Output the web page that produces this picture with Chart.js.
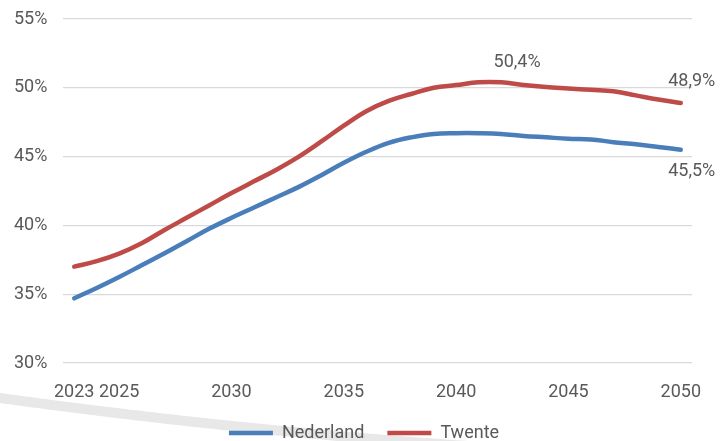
<!DOCTYPE html>
<html><head><meta charset="utf-8">
<script src="https://cdn.jsdelivr.net/npm/chart.js@4.4.1/dist/chart.umd.min.js"></script>
<style>html,body{margin:0;padding:0;background:#fff;overflow:hidden;width:722px;height:441px}#wrap{width:722px;height:452px;position:relative}</style>
</head><body><div id="wrap"><canvas id="c"></canvas></div>
<script>
const years = ['2023','2024','2025','2026','2027','2028','2029','2030','2031','2032','2033','2034','2035','2036','2037','2038','2039','2040','2041','2042','2043','2044','2045','2046','2047','2048','2049','2050'];
const tickYears = ['2023','2025','2030','2035','2040','2045','2050'];
const nederland = [34.7,35.45,36.25,37.1,37.95,38.85,39.75,40.55,41.3,42.05,42.8,43.65,44.55,45.35,46.0,46.4,46.65,46.7,46.7,46.65,46.5,46.4,46.3,46.25,46.05,45.9,45.7,45.5];
const twente = [37.0,37.4,37.95,38.7,39.65,40.55,41.45,42.35,43.2,44.05,45.0,46.1,47.25,48.3,49.05,49.55,50.0,50.2,50.4,50.4,50.2,50.05,49.95,49.85,49.75,49.45,49.15,48.9];
const yMin = 30, yMax = 55, yStep = 5;
const nederlandLabelYears = ['2050'];
const twenteLabelYears = ['2042','2050'];

const fontFam = 'Roboto, "Noto Sans", sans-serif';
const textColor = '#595959';

const arcPlugin = {
  id: 'arc',
  beforeDraw(chart) {
    const ctx = chart.ctx;
    ctx.save();
    ctx.strokeStyle = '#e8e8e8';
    ctx.lineWidth = 10;
    ctx.lineCap = 'butt';
    ctx.beginPath();
    for (let x = -10; x <= 480; x += 5) {
      const y = 398 + 0.1376 * x - 0.0000747 * x * x;
      if (x === -10) ctx.moveTo(x, y); else ctx.lineTo(x, y);
    }
    ctx.stroke();
    ctx.restore();
  }
};

const labelPlugin = {
  id: 'valueLabels',
  afterDatasetsDraw(chart, args, opts) {
    const ctx = chart.ctx;
    ctx.save();
    ctx.font = '18px ' + fontFam;
    ctx.fillStyle = textColor;
    ctx.textAlign = 'center';
    ctx.textBaseline = 'middle';
    opts.items.forEach(it => {
      const ds = chart.data.datasets[it.dataset];
      const meta = chart.getDatasetMeta(it.dataset);
      it.years.forEach((yr, k) => {
        const idx = chart.data.labels.indexOf(yr);
        const el = meta.data[idx];
        const v = ds.data[idx];
        const txt = v.toFixed(1).replace('.', ',') + '%';
        ctx.fillText(txt, el.x + it.dx[k], el.y + it.dy[k]);
      });
    });
    ctx.restore();
  }
};

new Chart(document.getElementById('c'), {
  type: 'line',
  data: {
    labels: years,
    datasets: [
      { label: 'Nederland', data: nederland, borderColor: '#4A7EBB', backgroundColor: '#4A7EBB', borderWidth: 4.5, pointRadius: 0, tension: 0.4, borderCapStyle: 'round', pointStyle: 'line' },
      { label: 'Twente', data: twente, borderColor: '#BE4B48', backgroundColor: '#BE4B48', borderWidth: 4.5, pointRadius: 0, tension: 0.4, borderCapStyle: 'round', pointStyle: 'line' }
    ]
  },
  options: {
    responsive: true,
    maintainAspectRatio: false,
    animation: false,
    layout: { padding: { top: 19, right: 30, left: 36, bottom: 0 } },
    scales: {
      x: {
        type: 'category',
        offset: true,
        grid: { display: false, drawTicks: false },
        border: { display: false },
        ticks: {
          autoSkip: false, maxRotation: 0, padding: 19, color: textColor,
          font: { family: fontFam, size: 18 },
          callback(v, i) { const l = this.getLabelForValue(v); return tickYears.includes(l) ? l : ''; }
        },
        afterFit(s) { s.height = 38; }
      },
      y: {
        min: yMin, max: yMax,
        grid: { color: '#d9d9d9', lineWidth: 1.3, drawTicks: false },
        border: { display: false },
        ticks: { stepSize: yStep, mirror: true, padding: -49, color: textColor, font: { family: fontFam, size: 18 }, callback: v => v + '%' },
        afterFit(s) { s.width = 27; s.paddingTop = 0; s.paddingBottom = 0; }
      }
    },
    plugins: {
      legend: {
        position: 'bottom',
        labels: {
          usePointStyle: true, pointStyle: 'line', pointStyleWidth: 44,
          padding: 23, color: textColor, font: { family: fontFam, size: 18 }
        }
      },
      tooltip: { enabled: false },
      valueLabels: {
        items: [
          { dataset: 0, years: nederlandLabelYears, dx: [11], dy: [22] },
          { dataset: 1, years: twenteLabelYears, dx: [16, 11], dy: [-20, -21] }
        ]
      }
    }
  },
  plugins: [arcPlugin, labelPlugin]
});
</script></body></html>
